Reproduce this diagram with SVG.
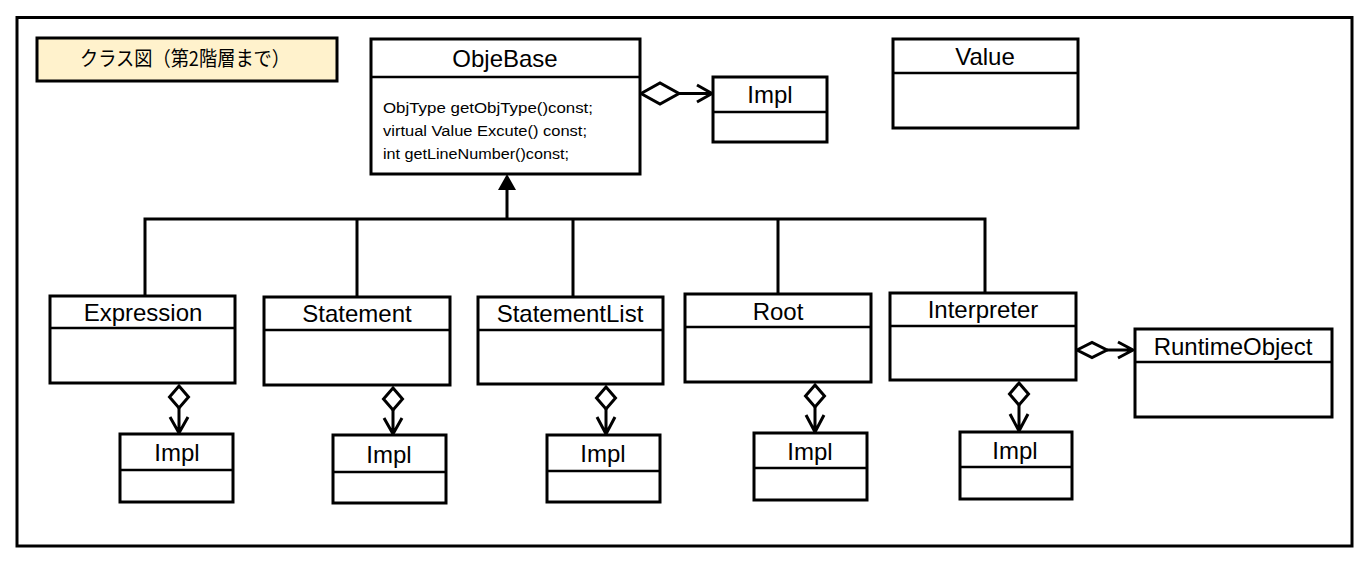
<svg xmlns="http://www.w3.org/2000/svg" width="1368" height="564" viewBox="0 0 1368 564">
<style>
.box{fill:#fff;stroke:#000;stroke-width:3}
.div{stroke:#000;stroke-width:2.5}
.name{font-family:"Liberation Sans",Arial,sans-serif;font-size:24px;fill:#000;text-anchor:middle}
.meth{font-family:"Liberation Sans",Arial,sans-serif;font-size:15.5px;fill:#000}
.ln{fill:none;stroke:#000;stroke-width:3}
.dia{fill:#fff;stroke:#000;stroke-width:3;stroke-linejoin:miter}
.tri{fill:#000;stroke:none}
</style>
<rect x="0" y="0" width="1368" height="564" fill="#fff"/>
<rect x="17" y="17.5" width="1335" height="528.5" fill="none" stroke="#000" stroke-width="3"/>

<g id="title">
<rect x="37" y="38" width="300" height="43" fill="#FFF2CC" stroke="#000" stroke-width="3"/>
<text x="185" y="66" text-anchor="middle" font-family="'Noto Sans CJK JP','Noto Sans CJK SC',sans-serif" font-size="20" textLength="210" lengthAdjust="spacingAndGlyphs" fill="#000">クラス図（第2階層まで）</text>
</g>

<g id="connectors">
<!-- inheritance -->
<path class="ln" d="M145,296 V219 H985 V293 M357,219 V297 M573,219 V297 M778,219 V294 M507,188 V219"/>
<path class="tri" d="M507,174 L516,190 L498,190 Z"/>
<!-- ObjeBase -> Impl -->
<path class="dia" d="M641,93.5 L660,83 L679,93.5 L660,104 Z"/>
<path class="ln" d="M679,93.5 H711 M697,85 L712,93.5 L697,102"/>
<!-- Interpreter -> RuntimeObject -->
<path class="dia" d="M1077,350 L1092,342.5 L1107,350 L1092,357.5 Z"/>
<path class="ln" d="M1107,350 H1132 M1118,342 L1133,350 L1118,358"/>
<!-- vertical aggregations -->
<path class="dia" d="M179,386 L188.5,397 L179,408 L169.5,397 Z"/>
<path class="ln" d="M179,408 V432 M170,417 L179,433 L188,417"/>
<path class="dia" d="M393,388 L402.5,399 L393,410 L383.5,399 Z"/>
<path class="ln" d="M393,410 V433 M384,418 L393,434 L402,418"/>
<path class="dia" d="M606,387 L615.5,398 L606,409 L596.5,398 Z"/>
<path class="ln" d="M606,409 V433 M597,417 L606,434 L615,417"/>
<path class="dia" d="M815,385 L824.5,396 L815,407 L805.5,396 Z"/>
<path class="ln" d="M815,407 V431 M806,415 L815,432 L824,415"/>
<path class="dia" d="M1019,383 L1028.5,394 L1019,405 L1009.5,394 Z"/>
<path class="ln" d="M1019,405 V430 M1010,414 L1019,431 L1028,414"/>
</g>

<g id="ObjeBase">
<rect class="box" x="371" y="39" width="269" height="135"/>
<line class="div" x1="371" y1="77" x2="640" y2="77"/>
<text class="name" x="505" y="67">ObjeBase</text>
<text class="meth" x="383" y="113" textLength="210" lengthAdjust="spacingAndGlyphs">ObjType getObjType()const;</text>
<text class="meth" x="383" y="136" textLength="204" lengthAdjust="spacingAndGlyphs">virtual Value Excute() const;</text>
<text class="meth" x="383" y="159" textLength="186" lengthAdjust="spacingAndGlyphs">int getLineNumber()const;</text>
</g>

<g id="ImplTop">
<rect class="box" x="713" y="77" width="114" height="65"/>
<line class="div" x1="713" y1="112" x2="827" y2="112"/>
<text class="name" x="770" y="103">Impl</text>
</g>

<g id="Value">
<rect class="box" x="893" y="39" width="185" height="89"/>
<line class="div" x1="893" y1="73" x2="1078" y2="73"/>
<text class="name" x="985" y="65">Value</text>
</g>

<g id="Expression">
<rect class="box" x="50" y="296" width="185" height="87"/>
<line class="div" x1="50" y1="328" x2="235" y2="328"/>
<text class="name" x="143" y="321">Expression</text>
</g>

<g id="Statement">
<rect class="box" x="264" y="297" width="186" height="88"/>
<line class="div" x1="264" y1="330" x2="450" y2="330"/>
<text class="name" x="357" y="322">Statement</text>
</g>

<g id="StatementList">
<rect class="box" x="478" y="297" width="185" height="87"/>
<line class="div" x1="478" y1="330" x2="663" y2="330"/>
<text class="name" x="570" y="322">StatementList</text>
</g>

<g id="Root">
<rect class="box" x="685" y="294" width="186" height="88"/>
<line class="div" x1="685" y1="327" x2="871" y2="327"/>
<text class="name" x="778" y="320">Root</text>
</g>

<g id="Interpreter">
<rect class="box" x="890" y="293" width="186" height="87"/>
<line class="div" x1="890" y1="326" x2="1076" y2="326"/>
<text class="name" x="983" y="318">Interpreter</text>
</g>

<g id="RuntimeObject">
<rect class="box" x="1135" y="329" width="197" height="88"/>
<line class="div" x1="1135" y1="362" x2="1332" y2="362"/>
<text class="name" x="1233" y="355">RuntimeObject</text>
</g>

<g id="Impl1">
<rect class="box" x="120" y="434" width="113" height="68"/>
<line class="div" x1="120" y1="470" x2="233" y2="470"/>
<text class="name" x="177" y="461">Impl</text>
</g>
<g id="Impl2">
<rect class="box" x="333" y="435" width="113" height="68"/>
<line class="div" x1="333" y1="472" x2="446" y2="472"/>
<text class="name" x="389" y="463">Impl</text>
</g>
<g id="Impl3">
<rect class="box" x="547" y="435" width="113" height="67"/>
<line class="div" x1="547" y1="471" x2="660" y2="471"/>
<text class="name" x="603" y="462">Impl</text>
</g>
<g id="Impl4">
<rect class="box" x="754" y="433" width="113" height="67"/>
<line class="div" x1="754" y1="468" x2="867" y2="468"/>
<text class="name" x="810" y="460">Impl</text>
</g>
<g id="Impl5">
<rect class="box" x="960" y="432" width="112" height="67"/>
<line class="div" x1="960" y1="467" x2="1072" y2="467"/>
<text class="name" x="1015" y="459">Impl</text>
</g>
</svg>
